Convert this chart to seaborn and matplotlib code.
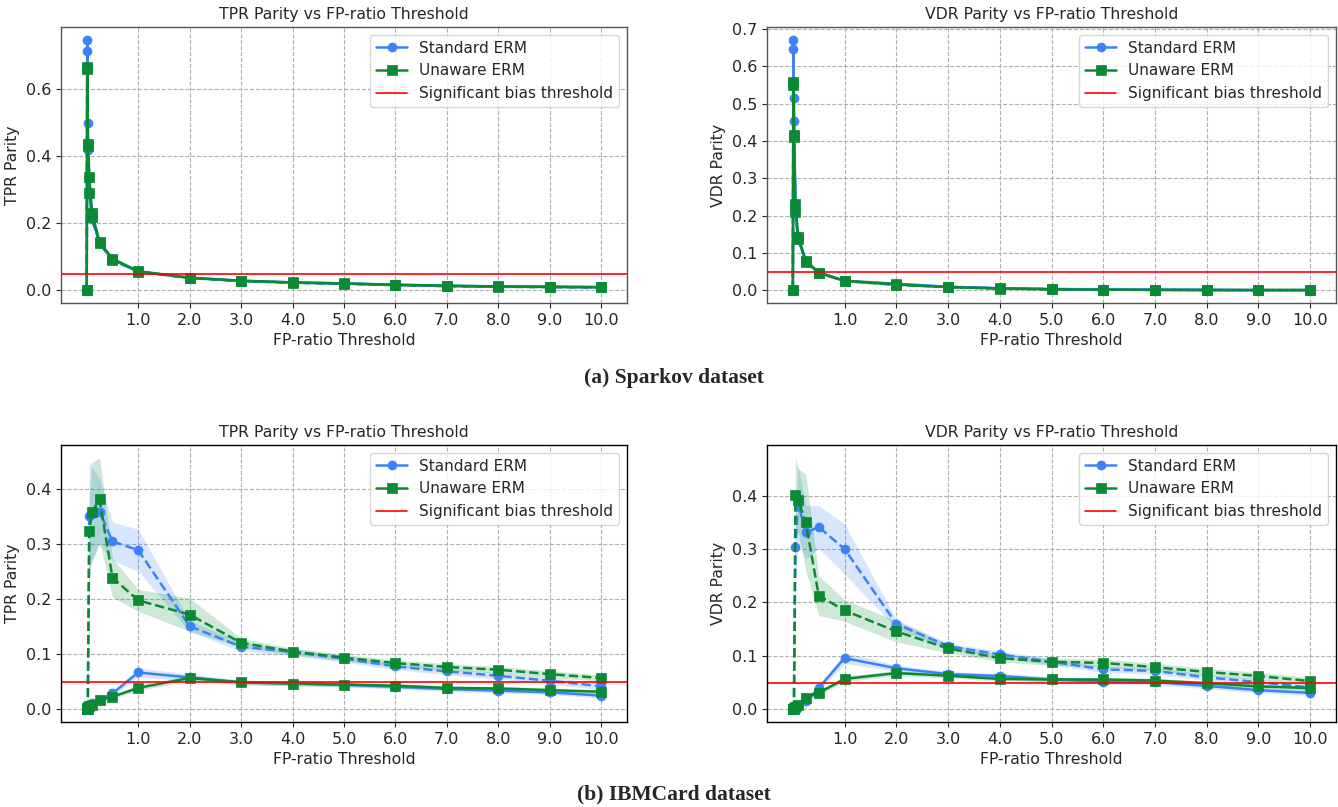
import numpy as np
import pandas as pd
import matplotlib
matplotlib.use("Agg")
import matplotlib.pyplot as plt
import seaborn as sns

# ---------------- data ----------------
fp_threshold = [0, 0.01, 0.02, 0.05, 0.1, 0.25, 0.5, 1, 2, 3, 4, 5, 6, 7, 8, 9, 10]
xtick_values = [1, 2, 3, 4, 5, 6, 7, 8, 9, 10]
bias_threshold = 0.05

# Sparkov - TPR parity
sp_tpr_std_solid = [0, 0.746, 0.498, 0.335, 0.228, 0.145, 0.093, 0.057, 0.038, 0.029, 0.024, 0.021, 0.017, 0.014, 0.012, 0.011, 0.010]
sp_tpr_std_dash = [0, 0.714, 0.420, 0.290, 0.212, 0.140, 0.090, 0.056, 0.037, 0.028, 0.023, 0.020, 0.016, 0.013, 0.011, 0.010, 0.009]
sp_tpr_un_solid = [0, 0.665, 0.436, 0.337, 0.232, 0.143, 0.095, 0.057, 0.038, 0.029, 0.024, 0.021, 0.017, 0.014, 0.012, 0.011, 0.010]
sp_tpr_un_dash = [0, 0.660, 0.430, 0.290, 0.218, 0.140, 0.092, 0.056, 0.037, 0.028, 0.023, 0.020, 0.016, 0.013, 0.011, 0.010, 0.009]

# Sparkov - VDR parity
sp_vdr_std_solid = [0, 0.670, 0.515, 0.230, 0.145, 0.080, 0.048, 0.026, 0.018, 0.010, 0.006, 0.004, 0.003, 0.002, 0.002, 0.001, 0.001]
sp_vdr_std_dash = [0, 0.646, 0.454, 0.210, 0.140, 0.078, 0.047, 0.025, 0.017, 0.009, 0.006, 0.004, 0.002, 0.002, 0.001, 0.001, 0.001]
sp_vdr_un_solid = [0, 0.557, 0.416, 0.231, 0.142, 0.079, 0.048, 0.026, 0.016, 0.009, 0.0055, 0.003, 0.002, 0.0015, 0.001, 0.001, 0.001]
sp_vdr_un_dash = [0, 0.550, 0.410, 0.210, 0.138, 0.077, 0.047, 0.025, 0.015, 0.009, 0.005, 0.003, 0.002, 0.0015, 0.001, 0.001, 0.001]

# IBMCard - TPR parity
ib_tpr_std_solid = [0, 0.002, 0.004, 0.008, 0.012, 0.017, 0.029, 0.067, 0.058, 0.049, 0.047, 0.045, 0.041, 0.037, 0.034, 0.031, 0.025]
ib_tpr_std_dash = [0, 0, 0, 0.351, 0.355, 0.359, 0.305, 0.289, 0.151, 0.114, 0.104, 0.092, 0.078, 0.069, 0.061, 0.052, 0.042]
ib_tpr_un_solid = [0, 0.002, 0.004, 0.006, 0.008, 0.017, 0.023, 0.039, 0.057, 0.049, 0.047, 0.045, 0.043, 0.039, 0.038, 0.035, 0.032]
ib_tpr_un_dash = [0, 0, 0, 0.323, 0.358, 0.381, 0.239, 0.198, 0.172, 0.121, 0.105, 0.094, 0.084, 0.077, 0.072, 0.064, 0.057]
ib_tpr_std_solid_sd = [0, 0.001, 0.001, 0.002, 0.003, 0.003, 0.004, 0.008, 0.006, 0.004, 0.004, 0.004, 0.004, 0.004, 0.004, 0.004, 0.004]
ib_tpr_std_dash_sd = [0, 0, 0, 0.100, 0.085, 0.060, 0.035, 0.038, 0.010, 0.008, 0.006, 0.006, 0.006, 0.006, 0.006, 0.006, 0.006]
ib_tpr_un_solid_sd = [0, 0.001, 0.001, 0.002, 0.002, 0.003, 0.003, 0.005, 0.005, 0.004, 0.004, 0.004, 0.004, 0.004, 0.004, 0.004, 0.004]
ib_tpr_un_dash_sd = [0, 0, 0, 0.070, 0.090, 0.076, 0.035, 0.020, 0.030, 0.008, 0.006, 0.006, 0.006, 0.006, 0.006, 0.006, 0.006]

# IBMCard - VDR parity
ib_vdr_std_solid = [0, 0.001, 0.003, 0.004, 0.005, 0.015, 0.040, 0.096, 0.077, 0.066, 0.0625, 0.056, 0.052, 0.051, 0.044, 0.036, 0.031]
ib_vdr_std_dash = [0, 0, 0, 0.303, 0.385, 0.331, 0.341, 0.300, 0.160, 0.118, 0.103, 0.089, 0.075, 0.072, 0.060, 0.051, 0.041]
ib_vdr_un_solid = [0, 0.001, 0.003, 0.005, 0.008, 0.022, 0.031, 0.057, 0.068, 0.063, 0.057, 0.056, 0.056, 0.054, 0.049, 0.043, 0.040]
ib_vdr_un_dash = [0, 0, 0, 0.401, 0.391, 0.350, 0.213, 0.185, 0.146, 0.114, 0.096, 0.089, 0.087, 0.079, 0.070, 0.0625, 0.053]
ib_vdr_std_solid_sd = [0, 0.001, 0.001, 0.002, 0.002, 0.004, 0.006, 0.010, 0.006, 0.005, 0.005, 0.005, 0.005, 0.005, 0.005, 0.005, 0.005]
ib_vdr_std_dash_sd = [0, 0, 0, 0.060, 0.070, 0.050, 0.040, 0.047, 0.008, 0.006, 0.006, 0.006, 0.006, 0.006, 0.006, 0.006, 0.006]
ib_vdr_un_solid_sd = [0, 0.001, 0.001, 0.002, 0.002, 0.004, 0.005, 0.005, 0.005, 0.004, 0.004, 0.004, 0.004, 0.004, 0.004, 0.004, 0.004]
ib_vdr_un_dash_sd = [0, 0, 0, 0.070, 0.060, 0.090, 0.037, 0.020, 0.020, 0.008, 0.007, 0.007, 0.007, 0.007, 0.007, 0.007, 0.007]

small_sd = [0, 0.002, 0.002, 0.002, 0.002, 0.002, 0.002, 0.001, 0.001, 0.001, 0.001, 0.001, 0.001, 0.001, 0.001, 0.001, 0.001]

method_names = ["Standard ERM", "Unaware ERM"]
caption_a = "(a) Sparkov dataset"
caption_b = "(b) IBMCard dataset"

# ---------------- style ----------------
sns.set_style("ticks")
plt.rcParams["font.family"] = ["DejaVu Sans"]

BLUE = "#3B82F6"
GREEN = "#0A8A32"
FS = 11
TICK_FS = 11.5
TITLE_FS = 11.3

fig = plt.figure(figsize=(13.38, 8.07), dpi=100)
W, H = 1338, 807


def make_ax(left, top, right, bottom):
    return fig.add_axes([left / W, 1 - bottom / H, (right - left) / W, (bottom - top) / H])


def draw(ax, series, title, ylabel, yticks, spine_color):
    x = np.array(fp_threshold, dtype=float)
    for (vals, sd, color, marker, ls, label) in series:
        v = np.array(vals, dtype=float)
        s = np.array(sd, dtype=float)
        ax.fill_between(x, v - s, v + s, color=color, alpha=0.2, linewidth=0)
        df = pd.DataFrame({"x": x, "y": v})
        sns.lineplot(data=df, x="x", y="y", ax=ax, color=color, marker=marker,
                     linestyle=ls, linewidth=1.8, markersize=6.5,
                     markeredgecolor=color, markeredgewidth=0.5,
                     label=label, errorbar=None, sort=False)
    ax.axhline(bias_threshold, color="red", linewidth=1.2, label="Significant bias threshold")
    ax.set_xticks(xtick_values)
    ax.set_xticklabels([f"{t:.1f}" for t in xtick_values], fontsize=TICK_FS)
    ax.set_yticks(yticks)
    ax.set_yticklabels([f"{t:.1f}" for t in yticks], fontsize=TICK_FS)
    ax.set_title(title, fontsize=TITLE_FS)
    ax.set_xlabel("FP-ratio Threshold", fontsize=TITLE_FS)
    ax.set_ylabel(ylabel, fontsize=TITLE_FS)
    ax.grid(True, linestyle="--", color="#b0b0b0", linewidth=0.8)
    for sp in ax.spines.values():
        sp.set_color(spine_color)
        sp.set_linewidth(1.0)
    handles, labels = ax.get_legend_handles_labels()
    keep = [(h, l) for h, l in zip(handles, labels) if l and not l.startswith("_")]
    ax.legend([h for h, _ in keep], [l for _, l in keep], loc="upper right",
              fontsize=FS, framealpha=0.8)


def series_set(s_solid, s_dash, u_solid, u_dash, sd_ss, sd_sd, sd_us, sd_ud):
    return [
        (s_dash, sd_sd, BLUE, "o", "--", None),
        (u_dash, sd_ud, GREEN, "s", "--", None),
        (s_solid, sd_ss, BLUE, "o", "-", method_names[0]),
        (u_solid, sd_us, GREEN, "s", "-", method_names[1]),
    ]


ax1 = make_ax(61, 27, 627, 303)
draw(ax1, series_set(sp_tpr_std_solid, sp_tpr_std_dash, sp_tpr_un_solid, sp_tpr_un_dash,
                     small_sd, small_sd, small_sd, small_sd),
     "TPR Parity vs FP-ratio Threshold", "TPR Parity", [0.0, 0.2, 0.4, 0.6], "#555555")

ax2 = make_ax(767, 27, 1336, 303)
draw(ax2, series_set(sp_vdr_std_solid, sp_vdr_std_dash, sp_vdr_un_solid, sp_vdr_un_dash,
                     small_sd, small_sd, small_sd, small_sd),
     "VDR Parity vs FP-ratio Threshold", "VDR Parity", [0.0, 0.1, 0.2, 0.3, 0.4, 0.5, 0.6, 0.7], "#555555")

ax3 = make_ax(61, 445, 627, 722)
draw(ax3, series_set(ib_tpr_std_solid, ib_tpr_std_dash, ib_tpr_un_solid, ib_tpr_un_dash,
                     ib_tpr_std_solid_sd, ib_tpr_std_dash_sd, ib_tpr_un_solid_sd, ib_tpr_un_dash_sd),
     "TPR Parity vs FP-ratio Threshold", "TPR Parity", [0.0, 0.1, 0.2, 0.3, 0.4], "black")

ax4 = make_ax(767, 445, 1336, 722)
draw(ax4, series_set(ib_vdr_std_solid, ib_vdr_std_dash, ib_vdr_un_solid, ib_vdr_un_dash,
                     ib_vdr_std_solid_sd, ib_vdr_std_dash_sd, ib_vdr_un_solid_sd, ib_vdr_un_dash_sd),
     "VDR Parity vs FP-ratio Threshold", "VDR Parity", [0.0, 0.1, 0.2, 0.3, 0.4], "black")

fig.text(674 / W, 1 - 378 / H, caption_a, ha="center", va="center",
         fontsize=15.5, fontweight="bold", family=["Liberation Serif"])
fig.text(674 / W, 1 - 794 / H, caption_b, ha="center", va="center",
         fontsize=15.5, fontweight="bold", family=["Liberation Serif"])

fig.savefig("out.png", dpi=100)
